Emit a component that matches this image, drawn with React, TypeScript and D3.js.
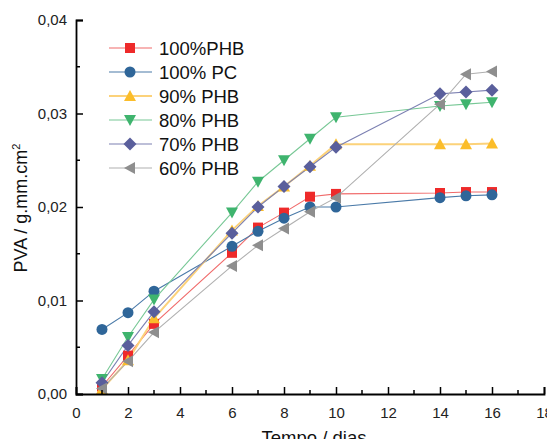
import * as d3 from "d3";
import React, { useEffect, useRef } from "react";

const days = [1, 2, 3, 6, 7, 8, 9, 10, 14, 15, 16];

const phb100 = [0.0008, 0.0041, 0.0075, 0.0151, 0.0178, 0.0194, 0.0211, 0.0214, 0.0215, 0.0216, 0.0216];
const pc100 = [0.0069, 0.0087, 0.011, 0.0158, 0.0174, 0.0188, 0.02, 0.02, 0.021, 0.0212, 0.0213];
const phb90 = [0.0005, 0.0036, 0.0081, 0.0175, 0.0201, 0.0222, 0.0244, 0.0267, 0.0267, 0.0267, 0.0268];
const phb80 = [0.0016, 0.0061, 0.0101, 0.0194, 0.0227, 0.025, 0.0273, 0.0296, 0.0308, 0.031, 0.0312];
const phb70 = [0.0012, 0.0052, 0.0088, 0.0172, 0.02, 0.0222, 0.0243, 0.0264, 0.0321, 0.0323, 0.0325];
const phb60 = [0.0006, 0.0035, 0.0066, 0.0137, 0.0159, 0.0177, 0.0195, 0.021, 0.031, 0.0342, 0.0345];

const seriesNames = ["100%PHB", "100% PC", "90% PHB", "80% PHB", "70% PHB", "60% PHB"];
const seriesValues = [phb100, pc100, phb90, phb80, phb70, phb60];
const colors = ["#ee2a2a", "#2f6699", "#fbbd2a", "#3fb46e", "#5a5f9c", "#8e8e8e"];
const lineColors = ["#f06a6a", "#4a7aa8", "#fcd27a", "#78c896", "#7c80b2", "#b0b0b0"];
const shapes = ["square", "circle", "up", "down", "diamond", "left"];

const xTicks = [0, 2, 4, 6, 8, 10, 12, 14, 16, 18];
const yTicks = [0, 0.01, 0.02, 0.03, 0.04];

function markerPath(shape: string, s: number) {
    const h = s / 2;
    switch (shape) {
        case "square":
            return `M${-h},${-h}H${h}V${h}H${-h}Z`;
        case "circle":
            return d3.symbol(d3.symbolCircle, Math.PI * (h + 0.5) * (h + 0.5))();
        case "up":
            return `M0,${-h - 1}L${h + 1},${h}L${-h - 1},${h}Z`;
        case "down":
            return `M0,${h + 1}L${h + 1},${-h}L${-h - 1},${-h}Z`;
        case "diamond":
            return `M0,${-h - 1.5}L${h + 1.5},0L0,${h + 1.5}L${-h - 1.5},0Z`;
        default:
            return `M${-h - 1},0L${h},${-h - 1}L${h},${h + 1}Z`;
    }
}

function Chart() {
    const svgRef = useRef<SVGSVGElement>(null);

    useEffect(() => {
        const svg = d3.select(svgRef.current);
        svg.selectAll("*").remove();

        const x = d3.scaleLinear().domain([0, 18]).range([76, 544]);
        const y = d3.scaleLinear().domain([0, 0.04]).range([394, 20]);
        const font = "'Liberation Sans', Arial, sans-serif";

        const line = d3
            .line<number>()
            .x((_, i) => x(days[i]))
            .y((d) => y(d));

        seriesValues.forEach((vals, k) => {
            svg.append("path")
                .datum(vals)
                .attr("fill", "none")
                .attr("stroke", lineColors[k])
                .attr("stroke-width", k === 2 ? 2 : 1.1)
                .attr("d", line);
        });

        seriesValues.forEach((vals, k) => {
            svg.append("g")
                .selectAll("path")
                .data(vals)
                .join("path")
                .attr("transform", (d, i) => `translate(${x(days[i])},${y(d)})`)
                .attr("d", markerPath(shapes[k], 10))
                .attr("fill", colors[k]);
        });

        // axes
        const xAxis = svg.append("g")
            .attr("transform", `translate(0,${y(0)})`)
            .call(
                d3.axisBottom(x)
                    .tickValues(xTicks)
                    .tickSize(-7)
                    .tickPadding(13)
                    .tickFormat(d3.format("d"))
            );
        xAxis.append("g")
            .selectAll("line")
            .data(d3.range(1, 18, 2))
            .join("line")
            .attr("x1", (d) => x(d))
            .attr("x2", (d) => x(d))
            .attr("y1", 0)
            .attr("y2", -4)
            .attr("stroke", "#000")
            .attr("stroke-width", 1.5);

        const yAxis = svg.append("g")
            .attr("transform", `translate(${x(0)},0)`)
            .call(
                d3.axisLeft(y)
                    .tickValues(yTicks)
                    .tickSize(-7)
                    .tickPadding(9)
                    .tickFormat((d) => d3.format(".2f")(d as number).replace(".", ","))
            );
        yAxis.append("g")
            .selectAll("line")
            .data([0.005, 0.015, 0.025, 0.035])
            .join("line")
            .attr("x1", 0)
            .attr("x2", 4)
            .attr("y1", (d) => y(d))
            .attr("y2", (d) => y(d))
            .attr("stroke", "#000")
            .attr("stroke-width", 1.5);

        [xAxis, yAxis].forEach((a) => {
            a.select(".domain").attr("stroke", "#000").attr("stroke-width", 1.8);
            a.selectAll(".tick line").attr("stroke", "#000").attr("stroke-width", 1.5);
            a.selectAll(".tick text")
                .attr("fill", "#222")
                .attr("font-size", 15)
                .attr("font-family", font);
        });

        // axis titles
        svg.append("text")
            .attr("x", 314)
            .attr("y", 444)
            .attr("text-anchor", "middle")
            .attr("font-family", font)
            .attr("font-size", 18.5)
            .attr("fill", "#111")
            .text("Tempo / dias");

        const yTitle = svg.append("text")
            .attr("transform", "translate(27,208) rotate(-90)")
            .attr("text-anchor", "middle")
            .attr("font-family", font)
            .attr("font-size", 18)
            .attr("fill", "#111");
        yTitle.append("tspan").text("PVA / g.mm.cm");
        yTitle.append("tspan").attr("font-size", 11).attr("dy", -7).text("2");

        // legend
        const legend = svg.append("g");
        seriesNames.forEach((name, k) => {
            const ly = 48 + k * 24;
            legend.append("line")
                .attr("x1", 109)
                .attr("x2", 152)
                .attr("y1", ly)
                .attr("y2", ly)
                .attr("stroke", lineColors[k])
                .attr("stroke-width", k === 2 ? 2 : 1.2);
            legend.append("path")
                .attr("transform", `translate(130,${ly})`)
                .attr("d", markerPath(shapes[k], 10))
                .attr("fill", colors[k]);
            legend.append("text")
                .attr("x", 159)
                .attr("y", ly + 6.5)
                .attr("font-family", font)
                .attr("font-size", 18.5)
                .attr("fill", "#111")
                .text(name);
        });
    }, []);

    return <svg ref={svgRef} width={555} height={447} style={{ display: "block" }}></svg>;
}

export default function App() {
    return (
        <div style={{ margin: -8 }}>
            <Chart />
        </div>
    );
}
